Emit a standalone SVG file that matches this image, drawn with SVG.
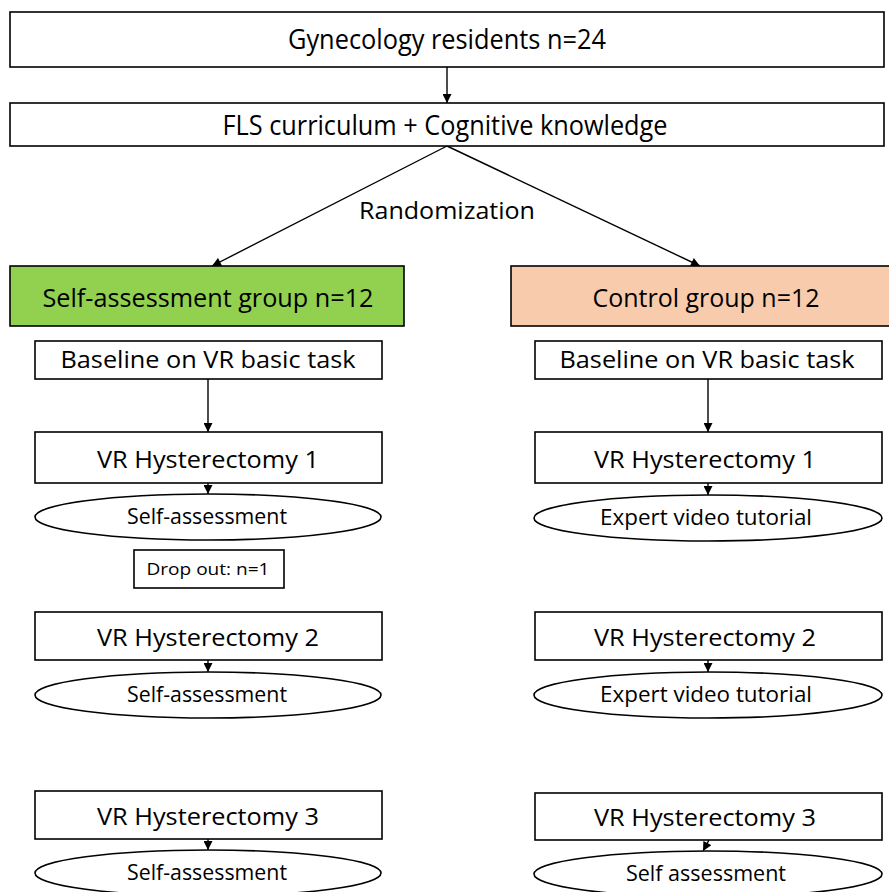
<svg xmlns="http://www.w3.org/2000/svg" width="889" height="892" viewBox="0 0 889 892">
<defs>
<marker id="ahs" viewBox="0 0 10 10" refX="10" refY="5" markerWidth="10" markerHeight="9" orient="auto" markerUnits="userSpaceOnUse">
<path d="M0,0 L10,5 L0,10 z" fill="#000"/>
</marker>
</defs>
<style>
.box{fill:#fff;stroke:#000;stroke-width:1.6}
.ell{fill:#fff;stroke:#000;stroke-width:1.6}
text{font-family:"Open Sans","Liberation Sans",sans-serif;fill:#000;text-anchor:middle}
.t26{font-size:27px}
.t24{font-size:26px}
.t22{font-size:23px}
.t20{font-size:21px}
.t15{font-size:16px}
.con{stroke:#000;stroke-width:1.4;fill:none}
</style>
<rect width="889" height="892" fill="#fff"/>
<g id="connectors">
<line class="con" x1="447" y1="67" x2="447" y2="103" marker-end="url(#ahs)"/>
<line class="con" x1="447" y1="146" x2="212" y2="266" marker-end="url(#ahs)"/>
<line class="con" x1="447" y1="146" x2="700" y2="266" marker-end="url(#ahs)"/>
<line class="con" x1="208" y1="379" x2="208" y2="432" marker-end="url(#ahs)"/>
<line class="con" x1="708" y1="379" x2="708" y2="432" marker-end="url(#ahs)"/>
<line class="con" x1="208" y1="483" x2="208" y2="494" marker-end="url(#ahs)"/>
<line class="con" x1="708" y1="483" x2="708" y2="495" marker-end="url(#ahs)"/>
<line class="con" x1="208" y1="660" x2="208" y2="672" marker-end="url(#ahs)"/>
<line class="con" x1="708" y1="660" x2="708" y2="672" marker-end="url(#ahs)"/>
<line class="con" x1="208" y1="839" x2="208" y2="850" marker-end="url(#ahs)"/>
<line class="con" x1="709" y1="840" x2="703" y2="851" marker-end="url(#ahs)"/>
</g>
<g id="n-residents"><rect class="box" x="10" y="12" width="874" height="55"/><text class="t26" x="447" y="49" textLength="318" lengthAdjust="spacingAndGlyphs">Gynecology residents n=24</text></g>
<g id="n-fls"><rect class="box" x="10" y="103" width="874" height="43"/><text class="t26" x="445" y="135" textLength="445" lengthAdjust="spacingAndGlyphs">FLS curriculum + Cognitive knowledge</text></g>
<g id="n-random"><text class="t22" x="447" y="219" textLength="176" lengthAdjust="spacingAndGlyphs">Randomization</text></g>
<g id="n-selfgroup"><rect x="10" y="266" width="394" height="60" fill="#92d050" stroke="#000" stroke-width="1.6"/><text class="t24" x="208" y="307" textLength="331" lengthAdjust="spacingAndGlyphs">Self-assessment group n=12</text></g>
<g id="n-control"><rect x="511" y="266" width="380" height="60" fill="#f8cbad" stroke="#000" stroke-width="1.6"/><text class="t24" x="706" y="307" textLength="227" lengthAdjust="spacingAndGlyphs">Control group n=12</text></g>
<g id="n-l-baseline"><rect class="box" x="35" y="341" width="347" height="38"/><text class="t22" x="208" y="368" textLength="295" lengthAdjust="spacingAndGlyphs">Baseline on VR basic task</text></g>
<g id="n-l-vr1"><rect class="box" x="35" y="432" width="347" height="51"/><text class="t22" x="208" y="468" textLength="222" lengthAdjust="spacingAndGlyphs">VR Hysterectomy 1</text></g>
<g id="n-l-sa1"><ellipse class="ell" cx="208" cy="517" rx="173" ry="23"/><text class="t20" x="207" y="524" textLength="160" lengthAdjust="spacingAndGlyphs">Self-assessment</text></g>
<g id="n-dropout"><rect class="box" x="134" y="550" width="150" height="38" stroke-width="1.2"/><text class="t15" x="208" y="575" textLength="123" lengthAdjust="spacingAndGlyphs">Drop out: n=1</text></g>
<g id="n-l-vr2"><rect class="box" x="35" y="612" width="347" height="48"/><text class="t22" x="208" y="646" textLength="222" lengthAdjust="spacingAndGlyphs">VR Hysterectomy 2</text></g>
<g id="n-l-sa2"><ellipse class="ell" cx="208" cy="695" rx="173" ry="23"/><text class="t20" x="207" y="702" textLength="160" lengthAdjust="spacingAndGlyphs">Self-assessment</text></g>
<g id="n-l-vr3"><rect class="box" x="35" y="791" width="347" height="48"/><text class="t22" x="208" y="825" textLength="222" lengthAdjust="spacingAndGlyphs">VR Hysterectomy 3</text></g>
<g id="n-l-sa3"><ellipse class="ell" cx="208" cy="873" rx="173" ry="23"/><text class="t20" x="207" y="880" textLength="160" lengthAdjust="spacingAndGlyphs">Self-assessment</text></g>
<g id="n-r-baseline"><rect class="box" x="535" y="341" width="347" height="38"/><text class="t22" x="707" y="368" textLength="295" lengthAdjust="spacingAndGlyphs">Baseline on VR basic task</text></g>
<g id="n-r-vr1"><rect class="box" x="535" y="432" width="347" height="51"/><text class="t22" x="705" y="468" textLength="222" lengthAdjust="spacingAndGlyphs">VR Hysterectomy 1</text></g>
<g id="n-r-vt1"><ellipse class="ell" cx="708" cy="518" rx="174" ry="23"/><text class="t20" x="706" y="525" textLength="212" lengthAdjust="spacingAndGlyphs">Expert video tutorial</text></g>
<g id="n-r-vr2"><rect class="box" x="535" y="612" width="347" height="48"/><text class="t22" x="705" y="646" textLength="222" lengthAdjust="spacingAndGlyphs">VR Hysterectomy 2</text></g>
<g id="n-r-vt2"><ellipse class="ell" cx="708" cy="695" rx="174" ry="23"/><text class="t20" x="706" y="702" textLength="212" lengthAdjust="spacingAndGlyphs">Expert video tutorial</text></g>
<g id="n-r-vr3"><rect class="box" x="535" y="793" width="347" height="47"/><text class="t22" x="705" y="826" textLength="222" lengthAdjust="spacingAndGlyphs">VR Hysterectomy 3</text></g>
<g id="n-r-sa3"><ellipse class="ell" cx="708" cy="874" rx="174" ry="23"/><text class="t20" x="706" y="881" textLength="160" lengthAdjust="spacingAndGlyphs">Self assessment</text></g>
</svg>
